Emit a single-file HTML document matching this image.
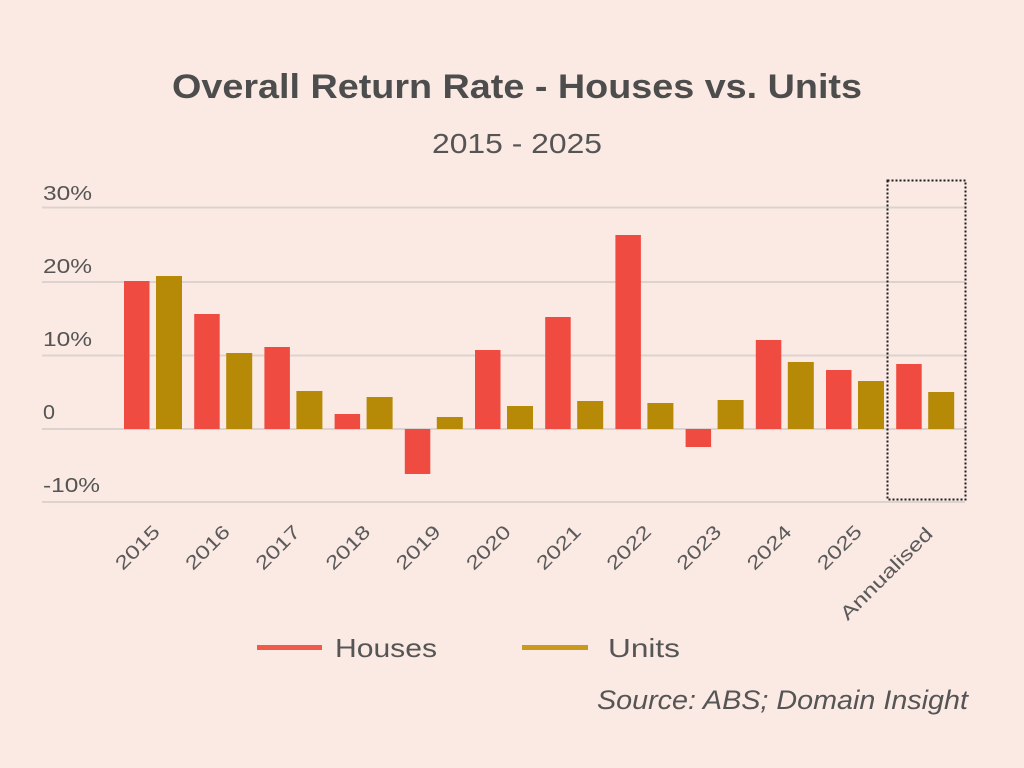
<!DOCTYPE html>
<html>
<head>
<meta charset="utf-8">
<style>
  html, body { margin: 0; padding: 0; background: #fbe9e3; }
  svg { display: block; }
</style>
</head>
<body>
<svg width="1024" height="768" viewBox="0 0 1024 768" xmlns="http://www.w3.org/2000/svg">
  <rect x="0" y="0" width="1024" height="768" fill="#fbe9e3"/>

  <!-- Title -->
  <text x="517" y="98" text-anchor="middle" font-family="Liberation Sans, sans-serif" font-weight="bold" font-size="34" fill="#4d4d4d" textLength="690" lengthAdjust="spacingAndGlyphs">Overall Return Rate - Houses vs. Units</text>
  <text x="517" y="153" text-anchor="middle" font-family="Liberation Sans, sans-serif" font-size="28" fill="#555" textLength="170" lengthAdjust="spacingAndGlyphs">2015 - 2025</text>

  <!-- Gridlines -->
  <g stroke="#dcd3ce" stroke-width="2">
    <line x1="42" y1="207.5" x2="965" y2="207.5"/>
    <line x1="42" y1="282" x2="965" y2="282"/>
    <line x1="42" y1="355.5" x2="965" y2="355.5"/>
    <line x1="42" y1="429" x2="965" y2="429"/>
    <line x1="42" y1="502" x2="965" y2="502"/>
  </g>

  <!-- Y labels -->
  <g font-family="Liberation Sans, sans-serif" font-size="20" fill="#555">
    <text x="43" y="200" textLength="49" lengthAdjust="spacingAndGlyphs">30%</text>
    <text x="43" y="273" textLength="49" lengthAdjust="spacingAndGlyphs">20%</text>
    <text x="43" y="346" textLength="49" lengthAdjust="spacingAndGlyphs">10%</text>
    <text x="43" y="419" textLength="12" lengthAdjust="spacingAndGlyphs">0</text>
    <text x="43" y="492" textLength="57" lengthAdjust="spacingAndGlyphs">-10%</text>
  </g>

  <!-- Houses bars -->
  <g fill="#ef4b40">
    <rect x="124" y="281" width="25.5" height="148"/>
    <rect x="194.2" y="314" width="25.5" height="115"/>
    <rect x="264.4" y="347" width="25.5" height="82"/>
    <rect x="334.6" y="414" width="25.5" height="15"/>
    <rect x="404.8" y="429" width="25.5" height="45"/>
    <rect x="475" y="350" width="25.5" height="79"/>
    <rect x="545.2" y="317" width="25.5" height="112"/>
    <rect x="615.4" y="235" width="25.5" height="194"/>
    <rect x="685.6" y="429" width="25.5" height="18"/>
    <rect x="755.8" y="340" width="25.5" height="89"/>
    <rect x="826" y="370" width="25.5" height="59"/>
    <rect x="896.2" y="364" width="25.5" height="65"/>
  </g>

  <!-- Units bars -->
  <g fill="#b68a06">
    <rect x="156" y="276" width="26" height="153"/>
    <rect x="226.2" y="353" width="26" height="76"/>
    <rect x="296.4" y="391" width="26" height="38"/>
    <rect x="366.6" y="397" width="26" height="32"/>
    <rect x="436.8" y="417" width="26" height="12"/>
    <rect x="507" y="406" width="26" height="23"/>
    <rect x="577.2" y="401" width="26" height="28"/>
    <rect x="647.4" y="403" width="26" height="26"/>
    <rect x="717.6" y="400" width="26" height="29"/>
    <rect x="787.8" y="362" width="26" height="67"/>
    <rect x="858" y="381" width="26" height="48"/>
    <rect x="928.2" y="392" width="26" height="37"/>
  </g>

  <!-- Dotted annualised box -->
  <rect x="887.5" y="180.5" width="78" height="319" fill="none" stroke="#1f1f1f" stroke-width="2" stroke-dasharray="2,2"/>

  <!-- X labels -->
  <g font-family="Liberation Sans, sans-serif" font-size="19" fill="#5a5a5a" text-anchor="end">
    <text transform="translate(161,533) rotate(-45)" textLength="54" lengthAdjust="spacingAndGlyphs">2015</text>
    <text transform="translate(231.2,533) rotate(-45)" textLength="54" lengthAdjust="spacingAndGlyphs">2016</text>
    <text transform="translate(301.4,533) rotate(-45)" textLength="54" lengthAdjust="spacingAndGlyphs">2017</text>
    <text transform="translate(371.6,533) rotate(-45)" textLength="54" lengthAdjust="spacingAndGlyphs">2018</text>
    <text transform="translate(441.8,533) rotate(-45)" textLength="54" lengthAdjust="spacingAndGlyphs">2019</text>
    <text transform="translate(512,533) rotate(-45)" textLength="54" lengthAdjust="spacingAndGlyphs">2020</text>
    <text transform="translate(582.2,533) rotate(-45)" textLength="54" lengthAdjust="spacingAndGlyphs">2021</text>
    <text transform="translate(652.4,533) rotate(-45)" textLength="54" lengthAdjust="spacingAndGlyphs">2022</text>
    <text transform="translate(722.6,533) rotate(-45)" textLength="54" lengthAdjust="spacingAndGlyphs">2023</text>
    <text transform="translate(792.8,533) rotate(-45)" textLength="54" lengthAdjust="spacingAndGlyphs">2024</text>
    <text transform="translate(863,533) rotate(-45)" textLength="54" lengthAdjust="spacingAndGlyphs">2025</text>
    <text transform="translate(934,535) rotate(-45)" textLength="122" lengthAdjust="spacingAndGlyphs">Annualised</text>
  </g>

  <!-- Legend -->
  <rect x="257" y="645" width="65" height="5" fill="#f05a48"/>
  <text x="335" y="657" font-family="Liberation Sans, sans-serif" font-size="26" fill="#555" textLength="102" lengthAdjust="spacingAndGlyphs">Houses</text>
  <rect x="522" y="645" width="66" height="5" fill="#c99a1c"/>
  <text x="608" y="657" font-family="Liberation Sans, sans-serif" font-size="26" fill="#555" textLength="72" lengthAdjust="spacingAndGlyphs">Units</text>

  <!-- Source -->
  <text x="597" y="709" font-family="Liberation Sans, sans-serif" font-style="italic" font-size="27" fill="#555" textLength="371" lengthAdjust="spacingAndGlyphs">Source: ABS; Domain Insight</text>
</svg>
</body>
</html>
